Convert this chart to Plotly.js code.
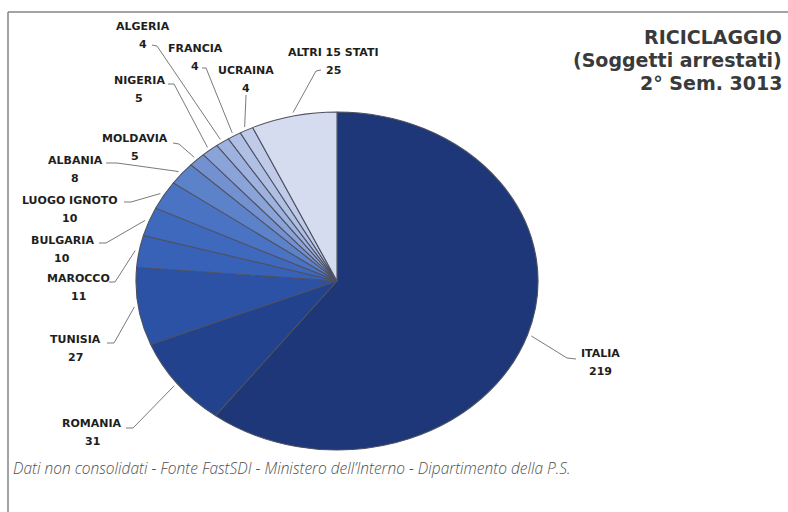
<!DOCTYPE html>
<html>
<head>
<meta charset="utf-8">
<script src="https://cdn.plot.ly/plotly-3.0.1.min.js"></script>
<style>
  html, body { margin: 0; padding: 0; background: #ffffff; }
  #chart { width: 788px; height: 512px; }
</style>
</head>
<body>
<div id="chart"></div>
<script>
// ---- data ----
const countries = ['ITALIA', 'ROMANIA', 'TUNISIA', 'MAROCCO', 'BULGARIA', 'LUOGO IGNOTO',
                   'ALBANIA', 'MOLDAVIA', 'NIGERIA', 'ALGERIA', 'FRANCIA', 'UCRAINA', 'ALTRI 15 STATI'];
const arrested = [219, 31, 27, 11, 10, 10, 8, 5, 5, 4, 4, 4, 25];
const titleLines = ['RICICLAGGIO', '(Soggetti arrestati)', '2° Sem. 3013'];
const sourceNote = 'Dati non consolidati - Fonte FastSDI - Ministero dell\u2019Interno - Dipartimento della P.S.';

// ---- styles / layout ----
const sliceColors = ['#1d3779', '#22428d', '#2b52a5', '#3862b7', '#3f69bd', '#4a73c3',
                     '#5c83ca', '#7391d0', '#8aa3d8', '#9db2de', '#afc0e4', '#bfcbe8', '#d6dcef'];
const W = 788, H = 512;
const R = 180;                 // pie radius drawn by plotly (px)
const CX = 337, CY = 281;      // pie centre (px)
const SX = 201 / R, SY = 169 / R;  // ellipse stretch of the tilted pie

// label placement (pixels): name centre, leader start, knee
const labelLayout = {
  'ITALIA':         { x: 600, y: 353, start: [576, 359], knee: [567, 358] },
  'ROMANIA':        { x: 92,  y: 423, start: [126, 428], knee: [133, 428] },
  'TUNISIA':        { x: 75,  y: 339, start: [107, 343], knee: [114, 343] },
  'MAROCCO':        { x: 78,  y: 278, start: [109, 282], knee: [115, 282] },
  'BULGARIA':       { x: 62,  y: 240, start: [99, 243],  knee: [106, 243] },
  'LUOGO IGNOTO':   { x: 70,  y: 200, start: [124, 202], knee: [131, 202] },
  'ALBANIA':        { x: 75,  y: 160, start: [106, 163], knee: [117, 163] },
  'MOLDAVIA':       { x: 135, y: 138, start: [173, 143], knee: [179, 144] },
  'NIGERIA':        { x: 139, y: 80,  start: [168, 84],  knee: [174, 84] },
  'ALGERIA':        { x: 143, y: 26,  start: [152, 45],  knee: [157, 46] },
  'FRANCIA':        { x: 195, y: 48,  start: [202, 68],  knee: [206, 68] },
  'UCRAINA':        { x: 246, y: 70,  start: [246, 95],  knee: [246, 96] },
  'ALTRI 15 STATI': { x: 333, y: 52,  start: [321, 70],  knee: [316, 71] }
};
const VALUE_GAP = 18;

const px = v => v / W;
const py = v => 1 - v / H;

const labelFont = { family: 'DejaVu Sans', size: 11, weight: 'bold', color: '#1e1e1e' };

const annotations = [];
countries.forEach((name, i) => {
  const L = labelLayout[name];
  annotations.push({ xref: 'paper', yref: 'paper', x: px(L.x), y: py(L.y), xanchor: 'center', yanchor: 'middle',
                     text: name, showarrow: false, font: labelFont });
  annotations.push({ xref: 'paper', yref: 'paper', x: px(L.x), y: py(L.y + VALUE_GAP), xanchor: 'center', yanchor: 'middle',
                     text: String(arrested[i]), showarrow: false, font: labelFont });
});
const titleY = [37, 60, 83];
titleLines.forEach((t, k) => {
  annotations.push({ xref: 'paper', yref: 'paper', x: px(783), y: py(titleY[k]), xanchor: 'right', yanchor: 'middle',
                     text: t, showarrow: false, borderpad: 0,
                     font: { family: 'DejaVu Sans', size: 19, weight: 'bold', color: '#3a3a3a' } });
});
annotations.push({ xref: 'paper', yref: 'paper', x: px(11), y: py(468), xanchor: 'left', yanchor: 'middle',
                   text: sourceNote, showarrow: false,
                   font: { family: 'Open Sans', size: 15.5, style: 'italic', weight: 300, color: '#505050' } });

const frameShapes = [
  { type: 'line', xref: 'paper', yref: 'paper', x0: px(8), y0: py(12), x1: px(788), y1: py(12),
    line: { color: '#858585', width: 1.5 } },
  { type: 'line', xref: 'paper', yref: 'paper', x0: px(8), y0: py(12), x1: px(8), y1: py(512),
    line: { color: '#858585', width: 1.5 } }
];

const data = [{
  type: 'pie',
  labels: countries,
  values: arrested,
  sort: false,
  direction: 'clockwise',
  rotation: 0,
  textinfo: 'none',
  textposition: 'none',
  hoverinfo: 'label+value',
  showlegend: false,
  marker: { colors: sliceColors, line: { color: '#4d5060', width: 1 } },
  domain: { x: [(CX - R) / W, (CX + R) / W], y: [(H - CY - R) / H, (H - CY + R) / H] }
}];

const layout = {
  width: W, height: H,
  margin: { l: 0, r: 0, t: 0, b: 0 },
  paper_bgcolor: '#ffffff',
  plot_bgcolor: '#ffffff',
  showlegend: false,
  annotations: annotations,
  shapes: frameShapes
};

const gd = document.getElementById('chart');
Plotly.newPlot(gd, data, layout, { displayModeBar: false }).then(() => {
  const cd = gd.calcdata && gd.calcdata[0];
  const cd0 = cd[0];
  const cx = cd0.cx, cy = cd0.cy;
  const total = arrested.reduce((a, b) => a + b, 0);
  let cum = 0;
  const leaders = [];
  cd.forEach((pt, k) => {
    const idx = (pt.i !== undefined) ? pt.i : k;
    const name = countries[idx];
    let mx, my;
    if (pt.pxmid) { mx = pt.pxmid[0]; my = pt.pxmid[1]; }
    else {
      const a = (cum + arrested[idx] / 2) / total * 2 * Math.PI;
      mx = cd0.r * Math.sin(a); my = -cd0.r * Math.cos(a);
    }
    cum += arrested[idx];
    const ex = cx + SX * mx * 1.02, ey = cy + SY * my * 1.02;
    const L = labelLayout[name];
    leaders.push({
      type: 'path', xref: 'paper', yref: 'paper',
      path: `M${px(L.start[0])},${py(L.start[1])} L${px(L.knee[0])},${py(L.knee[1])} L${px(ex)},${py(ey)}`,
      line: { color: '#7a7a7a', width: 1 }
    });
  });
  return Plotly.relayout(gd, { shapes: frameShapes.concat(leaders) }).then(() => {
    gd.querySelectorAll('.pielayer g.trace').forEach(g => {
      g.setAttribute('transform', `translate(${cx},${cy}) scale(${SX},${SY}) translate(${-cx},${-cy})`);
    });
  });
});
</script>
</body>
</html>
